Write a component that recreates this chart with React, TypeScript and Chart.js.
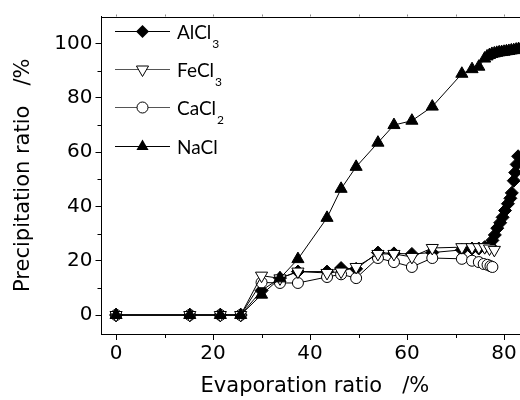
import { useEffect, useRef } from "react";
import { Chart, registerables } from "chart.js";

Chart.register(...registerables);

// ---- data ----
const alcl3X = [0, 15.2, 21.5, 25.7, 30, 33.8, 37.5, 43.5, 46.4, 49.5, 54, 57.3, 61, 65.2, 71.3, 73.4, 74.8, 76, 77.1, 77.6, 78.1, 78.6, 79.2, 79.7, 80.2, 80.8, 81.3, 81.6, 82.0, 82.3, 82.6, 82.9];
const alcl3Y = [0, 0, 0, 0, 9, 13.6, 16, 16, 17.3, 17, 23, 22.7, 22.5, 23, 24, 24.5, 24.5, 25, 25.5, 27.5, 29.5, 32, 34, 36, 38.5, 41, 43, 45, 49.5, 52.5, 55.5, 58.5];

const fecl3X = [0, 15.2, 21.5, 25.7, 30, 33.8, 37.5, 43.5, 46.4, 49.5, 54, 57.3, 61, 65.2, 71.3, 73.4, 74.8, 76, 77, 78];
const fecl3Y = [0, 0, 0, 0, 14.5, 13.5, 16, 15.5, 16, 17.7, 22.5, 22.5, 21.4, 24.7, 25, 25, 25, 25, 24.5, 24];

const cacl2X = [0, 15.2, 21.5, 25.7, 30, 33.8, 37.5, 43.5, 46.4, 49.5, 54, 57.3, 61, 65.2, 71.3, 73.4, 74.8, 75.8, 76.6, 77.2, 77.6];
const cacl2Y = [0, 0, 0, 0, 12, 11.8, 11.8, 14, 15, 13.6, 21, 19.5, 17.7, 21, 20.7, 20, 19.5, 18.8, 18.5, 18, 17.7];

const naclX = [0, 15.2, 21.5, 25.7, 30, 33.8, 37.5, 43.5, 46.4, 49.5, 54, 57.3, 61, 65.2, 71.3, 73.4, 74.8, 76, 76.5, 77, 77.5, 78, 78.5, 79, 79.5, 80, 80.5, 81, 81.5, 82, 82.5, 83, 83.5];
const naclY = [0, 0, 0, 0, 7.5, 13.5, 20.6, 35.8, 46.5, 54.6, 63.5, 70, 71.6, 76.8, 88.9, 90.6, 91.5, 94.5, 95.3, 95.8, 96.2, 96.4, 96.6, 96.8, 96.9, 97, 97.2, 97.3, 97.5, 97.6, 97.8, 98, 98.1];

const legendBase = ["AlCl", "FeCl", "CaCl", "NaCl"];
const legendSub = ["3", "3", "2", ""];

const xMinorTicks = [10, 30, 50, 70];
const yMinorTicks = [10, 30, 50, 70, 90];
const topTicks = [0, 10, 20, 30, 40, 50, 60, 70, 80];

const xTitle = "Evaporation ratio   /%";
const yTitle = "Precipitation ratio   /%";

const toPts = (xs: number[], ys: number[]) => xs.map((x, i) => ({ x, y: ys[i] }));

function drawMarker(ctx: CanvasRenderingContext2D, kind: number, x: number, y: number) {
  ctx.save();
  ctx.lineWidth = 1;
  ctx.strokeStyle = "#000";
  ctx.beginPath();
  if (kind === 0) {
    const r = 6.5;
    ctx.moveTo(x, y - r);
    ctx.lineTo(x + r, y);
    ctx.lineTo(x, y + r);
    ctx.lineTo(x - r, y);
    ctx.closePath();
    ctx.fillStyle = "#000";
    ctx.fill();
  } else if (kind === 1) {
    const r = 7;
    ctx.moveTo(x, y + r);
    ctx.lineTo(x - r * 0.866, y - r * 0.5);
    ctx.lineTo(x + r * 0.866, y - r * 0.5);
    ctx.closePath();
    ctx.fillStyle = "#fff";
    ctx.fill();
    ctx.stroke();
  } else if (kind === 2) {
    ctx.arc(x, y, 5.5, 0, Math.PI * 2);
    ctx.fillStyle = "#fff";
    ctx.fill();
    ctx.stroke();
  } else {
    const r = 7;
    ctx.moveTo(x, y - r);
    ctx.lineTo(x - r * 0.866, y + r * 0.5);
    ctx.lineTo(x + r * 0.866, y + r * 0.5);
    ctx.closePath();
    ctx.fillStyle = "#000";
    ctx.fill();
  }
  ctx.restore();
}

const framePlugin = {
  id: "frameAndLegend",
  afterDraw(chart: any) {
    const { ctx, chartArea } = chart;
    const xs = chart.scales.x;
    const ys = chart.scales.y;
    ctx.save();
    ctx.strokeStyle = "#000";
    ctx.lineWidth = 1;
    // top frame line
    ctx.beginPath();
    ctx.moveTo(chartArea.left, Math.round(chartArea.top) + 0.5);
    ctx.lineTo(chartArea.right, Math.round(chartArea.top) + 0.5);
    ctx.stroke();
    // small ticks on top line
    ctx.strokeStyle = "#888";
    topTicks.forEach((v) => {
      const px = Math.round(xs.getPixelForValue(v)) + 0.5;
      ctx.beginPath();
      ctx.moveTo(px, chartArea.top);
      ctx.lineTo(px, chartArea.top - 2);
      ctx.stroke();
    });
    ctx.strokeStyle = "#000";
    // minor ticks
    xMinorTicks.forEach((v) => {
      const px = Math.round(xs.getPixelForValue(v)) + 0.5;
      ctx.beginPath();
      ctx.moveTo(px, chartArea.bottom);
      ctx.lineTo(px, chartArea.bottom + 4);
      ctx.stroke();
    });
    yMinorTicks.forEach((v) => {
      const py = Math.round(ys.getPixelForValue(v)) + 0.5;
      ctx.beginPath();
      ctx.moveTo(chartArea.left, py);
      ctx.lineTo(chartArea.left - 4, py);
      ctx.stroke();
    });
    // legend
    const rowY = [31, 69, 107, 146];
    legendBase.forEach((label, i) => {
      const y = rowY[i];
      ctx.strokeStyle = i === 1 || i === 2 ? "#555" : "#000";
      ctx.beginPath();
      ctx.moveTo(115, y + 0.5);
      ctx.lineTo(170, y + 0.5);
      ctx.stroke();
      drawMarker(ctx, i, 142.5, y + 0.5);
      ctx.fillStyle = "#000";
      ctx.textBaseline = "alphabetic";
      ctx.textAlign = "left";
      ctx.font = "19px Lato";
      ctx.fillText(label, 177, y + 8);
      const w = ctx.measureText(label).width;
      if (legendSub[i]) {
        ctx.font = "12px Lato";
        ctx.fillText(legendSub[i], 177 + w + 1, y + 17);
      }
    });
    ctx.restore();
  },
};

export default function App() {
  const ref = useRef<HTMLCanvasElement>(null);
  useEffect(() => {
    if (!ref.current) return;
    const common = { showLine: true, borderColor: "#000", borderWidth: 1, tension: 0, pointBorderWidth: 1, pointBorderColor: "#000" };
    const chart = new Chart(ref.current, {
      type: "scatter",
      data: {
        datasets: [
          { ...common, label: "NaCl", data: toPts(naclX, naclY), pointStyle: "triangle", pointRadius: 7, pointBackgroundColor: "#000", order: 1 },
          { ...common, label: "FeCl3", data: toPts(fecl3X, fecl3Y), pointStyle: "triangle", pointRotation: 180, pointRadius: 7, pointBackgroundColor: "#fff", order: 2 },
          { ...common, label: "CaCl2", data: toPts(cacl2X, cacl2Y), pointStyle: "circle", pointRadius: 5.5, pointBackgroundColor: "#fff", order: 3 },
          { ...common, label: "AlCl3", data: toPts(alcl3X, alcl3Y), pointStyle: "rectRot", pointRadius: 6.5, pointBackgroundColor: "#000", order: 4 },
        ] as any,
      },
      options: {
        animation: false,
        responsive: false,
        devicePixelRatio: 1,
        layout: { padding: { left: 0, top: 16.5, right: 111.7, bottom: 0 } },
        plugins: { legend: { display: false }, tooltip: { enabled: false } },
        scales: {
          x: {
            type: "linear",
            min: -3,
            max: 85,
            afterFit: (s: any) => { s.height = 66; },
            grid: { display: true, drawOnChartArea: false, drawTicks: true, tickLength: 6, color: "#000" },
            border: { display: true, color: "#000", width: 1 },
            ticks: { stepSize: 20, includeBounds: false, autoSkip: false, maxRotation: 0, padding: 2, color: "#000", font: { family: "DejaVu Sans", size: 20 } },
            title: { display: true, text: xTitle, color: "#000", font: { family: "DejaVu Sans", size: 21 }, padding: { top: 0, bottom: 0.8 } },
          },
          y: {
            type: "linear",
            min: -7,
            max: 110,
            afterFit: (s: any) => { s.width = 101.5; },
            grid: { display: true, drawOnChartArea: false, drawTicks: true, tickLength: 6, color: "#000" },
            border: { display: true, color: "#000", width: 1 },
            ticks: { stepSize: 20, includeBounds: false, padding: 3, color: "#000", font: { family: "DejaVu Sans", size: 20 } },
            title: { display: true, text: yTitle, color: "#000", font: { family: "DejaVu Sans", size: 21 }, padding: { top: 10.5, bottom: 0 } },
          },
        },
      } as any,
      plugins: [framePlugin],
    });
    return () => chart.destroy();
  }, []);
  return (
    <div style={{ position: "fixed", left: 0, top: 0, width: 520, height: 400, overflow: "hidden", background: "#fff" }}>
      <canvas ref={ref} width={640} height={400} style={{ display: "block" }} />
    </div>
  );
}
